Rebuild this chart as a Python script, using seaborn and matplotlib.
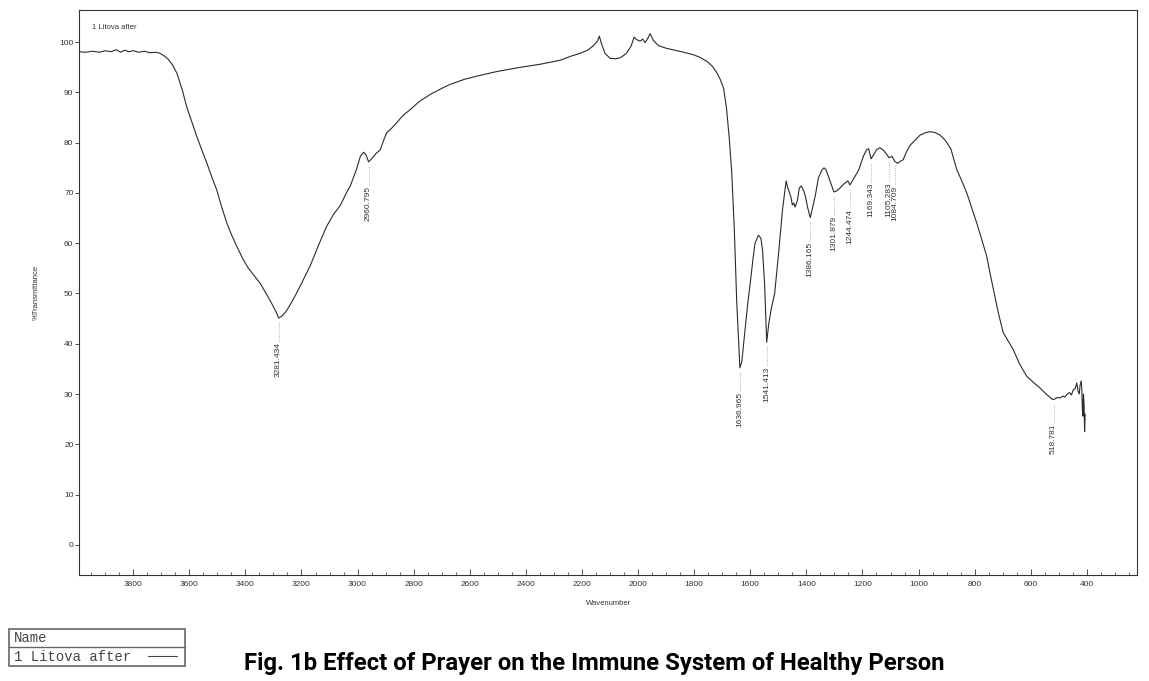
import numpy as np
import pandas as pd
import matplotlib
matplotlib.use("Agg")
import matplotlib.pyplot as plt
from matplotlib import font_manager
from matplotlib.lines import Line2D
from matplotlib.patches import Rectangle
from matplotlib.ticker import MultipleLocator
import seaborn as sns

# FTIR spectrum (wavenumber cm-1, % transmittance)
wavenumber = [
    3995, 3970, 3945, 3920, 3900, 3880, 3860, 3845, 3830, 3815, 3800, 3780,
    3760, 3740, 3720, 3705, 3690, 3675, 3660, 3644, 3625, 3609, 3590, 3573,
    3555, 3537, 3520, 3502, 3485, 3466, 3448, 3430, 3410, 3389, 3368, 3347,
    3326, 3306, 3290, 3281.434, 3270, 3255, 3240, 3220, 3200, 3169, 3140, 3110,
    3085, 3062, 3040, 3026, 3005, 2990, 2978, 2970, 2960.795, 2950, 2935, 2919,
    2905, 2896, 2880, 2860, 2845, 2830, 2812, 2780, 2741, 2700, 2670, 2620,
    2563, 2500, 2420, 2350, 2278, 2240, 2206, 2180, 2159, 2145, 2138, 2130,
    2118, 2100, 2080, 2064, 2050, 2040, 2025, 2014, 2005, 1993, 1983, 1975,
    1965, 1957, 1945, 1927, 1900, 1862, 1830, 1803, 1780, 1755, 1735, 1719,
    1707, 1695, 1685, 1675, 1666, 1657, 1648, 1640, 1636.965, 1630, 1620, 1610,
    1600, 1590, 1583, 1571, 1562, 1556, 1549, 1541.413, 1534, 1525, 1513, 1500,
    1485, 1472, 1466, 1460, 1455, 1450, 1445, 1440, 1432, 1425, 1418, 1410,
    1404, 1395, 1386.165, 1378, 1368, 1357, 1345, 1337, 1330, 1322, 1312, 1301.879,
    1292, 1280, 1268, 1252, 1244.474, 1232, 1214, 1196, 1185, 1178, 1169.343, 1160,
    1150, 1138, 1125, 1115, 1105.283, 1095, 1084.709, 1075, 1065, 1055, 1043, 1030,
    1012, 995, 975, 959, 940, 923, 905, 885, 864, 846, 828, 810,
    793, 775, 757, 745, 733, 715, 698, 680, 662, 640, 614, 590,
    567, 545, 525, 518.781, 505, 495, 485, 478, 471, 462, 455, 448,
    442, 436, 431, 427, 424, 420, 418, 416, 414, 412, 410, 408,
    406,
]
transmittance = [
    98.1, 98.0, 98.2, 98.0, 98.3, 98.1, 98.5, 98.0, 98.4, 98.1, 98.3, 98.0,
    98.2, 97.9, 98.0, 97.8, 97.3, 96.6, 95.5, 93.8, 90.5, 87.1, 84.0, 81.2,
    78.5, 75.9, 73.2, 70.6, 67.3, 64.0, 61.5, 59.3, 57.0, 55.0, 53.5, 52.0,
    50.0, 48.0, 46.3, 45.1, 45.5, 46.4, 47.8, 49.8, 52.0, 55.5, 59.5, 63.4,
    65.8, 67.5, 70.0, 71.4, 74.5, 77.3, 78.1, 77.6, 76.2, 76.8, 77.8, 78.6,
    80.8, 82.0, 82.8, 84.0, 85.0, 85.8, 86.6, 88.2, 89.6, 90.8, 91.6, 92.6,
    93.4, 94.2, 95.0, 95.6, 96.4, 97.2, 97.8, 98.4, 99.3, 100.2, 101.2, 99.6,
    97.8, 96.8, 96.7, 96.9, 97.4, 97.9, 99.2, 101.0, 100.5, 100.2, 100.6, 99.9,
    100.8, 101.7, 100.3, 99.3, 98.8, 98.3, 97.9, 97.5, 97.0, 96.2, 95.2, 93.9,
    92.6, 90.8, 87.0, 81.0, 74.0, 63.0, 48.0, 38.5, 35.2, 36.5, 42.0, 47.5,
    52.1, 57.0, 60.0, 61.6, 61.0, 58.5, 52.0, 40.3, 44.0, 47.0, 50.0, 57.4,
    66.7, 72.4, 71.0, 70.0, 69.2, 67.6, 68.0, 67.2, 68.5, 71.0, 71.4, 70.5,
    69.5, 67.0, 65.1, 67.0, 69.5, 73.0, 74.5, 75.0, 74.6, 73.4, 71.8, 70.2,
    70.4, 71.0, 71.7, 72.4, 71.6, 72.8, 74.5, 77.4, 78.6, 78.8, 76.8, 77.6,
    78.6, 79.0, 78.5, 77.8, 77.0, 77.3, 76.3, 75.9, 76.3, 76.6, 78.2, 79.5,
    80.5, 81.5, 82.0, 82.2, 82.0, 81.5, 80.5, 78.8, 74.7, 72.4, 70.0, 67.0,
    64.1, 60.8, 57.4, 54.0, 50.8, 46.0, 42.2, 40.5, 38.8, 36.0, 33.5, 32.3,
    31.2, 30.0, 29.0, 28.9, 29.3, 29.2, 29.6, 29.4, 29.9, 30.3, 29.8, 30.9,
    31.0, 32.2, 30.5, 30.0, 31.8, 32.6, 31.0, 27.0, 25.6, 30.0, 28.0, 22.5,
    26.0,
]

peak_wn = [3281.434, 2960.795, 1636.965, 1541.413, 1386.165, 1301.879,
           1244.474, 1169.343, 1105.283, 1084.709, 518.781]
peak_labels = ["3281.434", "2960.795", "1636.965", "1541.413", "1386.165",
               "1301.879", "1244.474", "1169.343", "1105.283", "1084.709",
               "518.781"]

x_ticks = list(range(3800, 399, -200))
y_ticks = list(range(0, 101, 10))

sample_name = "1 Litova after"
caption = "Fig. 1b Effect of Prayer on the Immune System of Healthy Person"

sns.set_style("ticks")
plt.rcParams["font.family"] = ["Liberation Sans", "DejaVu Sans"]

installed = {f.name for f in font_manager.fontManager.ttflist}
caption_font = "Liberation Sans Narrow" if "Liberation Sans Narrow" in installed else "Roboto"

df = pd.DataFrame({"Wavenumber": wavenumber, "T": transmittance})

fig = plt.figure(figsize=(11.49, 6.81), dpi=100)
ax = fig.add_axes([0.0688, 0.1557, 0.9208, 0.8296])

sns.lineplot(data=df, x="Wavenumber", y="T", sort=False, estimator=None,
             color="#2b2b2b", linewidth=0.8, ax=ax)

ax.set_xlim(3993, 221)
ax.set_ylim(-6, 106.4)
ax.set_xticks(x_ticks)
ax.set_yticks(y_ticks)
ax.xaxis.set_minor_locator(MultipleLocator(50))
ax.tick_params(axis="x", which="major", direction="in", length=4, width=0.6,
               labelsize=6, pad=4, colors="#333333")
ax.tick_params(axis="x", which="minor", direction="in", length=2, width=0.5,
               colors="#333333")
ax.tick_params(axis="y", direction="out", length=3, width=0.6, labelsize=6,
               pad=1, colors="#333333")
for s in ax.spines.values():
    s.set_linewidth(0.8)
    s.set_color("#333333")

ax.set_xlabel("Wavenumber", fontsize=5.5, color="#333333", labelpad=9)
ax.set_ylabel("%Transmittance", fontsize=5.5, color="#333333", labelpad=14)

ax.text(0.0125, 0.975, sample_name, transform=ax.transAxes, fontsize=5.5,
        color="#333333", va="top", ha="left")

# peak annotations: dotted leader below the dip, value rotated
for wn, lab in zip(peak_wn, peak_labels):
    t = np.interp(wn, wavenumber[::-1], transmittance[::-1])
    ax.vlines(wn, t - 4.6, t - 0.8, colors="#999999", linestyles=":", linewidth=0.6)
    ax.text(wn, t - 4.8, lab, rotation=90, ha="center", va="top",
            fontsize=6, color="#333333")

# name box at the bottom left
fig.patches.append(Rectangle((0.0078, 0.022), 0.153, 0.0543, transform=fig.transFigure,
                             fill=False, edgecolor="#666666", linewidth=1.2))
fig.lines.append(Line2D([0.0078, 0.1608], [0.0499, 0.0499], transform=fig.transFigure,
                        color="#666666", linewidth=1.0))
fig.text(0.0122, 0.0625, "Name", family="Liberation Mono", fontsize=10,
         color="#444444", va="center", ha="left")
fig.text(0.0122, 0.0355, sample_name, family="Liberation Mono", fontsize=10,
         color="#444444", va="center", ha="left")
fig.lines.append(Line2D([0.129, 0.154], [0.0365, 0.0365], transform=fig.transFigure,
                        color="#444444", linewidth=0.8))

fig.text(0.517, 0.025, caption, family=caption_font, fontsize=17.2,
         fontweight="bold", color="black", ha="center", va="center")

fig.savefig("out.png", dpi=100, facecolor="white")
